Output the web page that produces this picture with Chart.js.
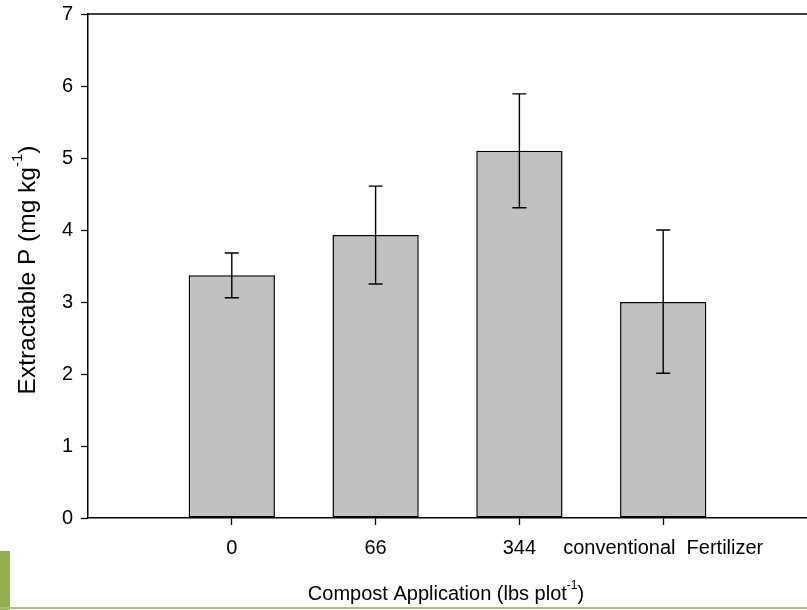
<!DOCTYPE html>
<html>
<head>
<meta charset="utf-8">
<script src="https://cdn.jsdelivr.net/npm/chart.js@4.4.1/dist/chart.umd.min.js"></script>
<style>
  html, body { margin: 0; padding: 0; background: #fff; }
  #wrap { position: relative; width: 807px; height: 610px; overflow: hidden; }
  #deco { position: absolute; left: 0; top: 551px; width: 10px; height: 59px; background: #92b050; }
  #decoLine { position: absolute; left: 0; top: 607px; width: 807px; height: 2px; background: #a9c27a; }
</style>
</head>
<body>
<div id="wrap">
  <canvas id="chart" width="807" height="610"></canvas>
  <div id="deco"></div>
  <div id="decoLine"></div>
</div>
<script>
// Kategorien (leere Ränder links/rechts wie im Original)
const categories = ['', '0', '66', '344', 'conventional  Fertilizer', ''];
const means = [null, 3.37, 3.93, 5.10, 3.00, null];
const errLow = [null, 3.06, 3.25, 4.31, 2.01, null];
const errHigh = [null, 3.68, 4.61, 5.89, 4.00, null];
const yTicks = [0, 1, 2, 3, 4, 5, 6, 7];

const FONT = 'Liberation Sans, Arial, sans-serif';

/* Fehlerbalken + obere Rahmenlinie + Achsentitel mit Hochstellung */
const extrasPlugin = {
    id: 'extras',
    afterDatasetsDraw(chart) {
        const { ctx, chartArea, scales } = chart;
        const x = scales.x, y = scales.y;
        ctx.save();
        ctx.strokeStyle = '#000';
        ctx.lineWidth = 1.4;
        means.forEach((m, i) => {
            if (m === null) return;
            const px = x.getPixelForValue(i);
            const top = y.getPixelForValue(errHigh[i]);
            const bot = y.getPixelForValue(errLow[i]);
            ctx.beginPath();
            ctx.moveTo(px, top); ctx.lineTo(px, bot);
            ctx.moveTo(px - 7, top); ctx.lineTo(px + 7, top);
            ctx.moveTo(px - 7, bot); ctx.lineTo(px + 7, bot);
            ctx.stroke();
        });
        // obere Rahmenlinie
        ctx.lineWidth = 1.5;
        ctx.beginPath();
        ctx.moveTo(chartArea.left, chartArea.top);
        ctx.lineTo(chartArea.right, chartArea.top);
        ctx.stroke();
        ctx.restore();
    },
    afterDraw(chart) {
        const { ctx } = chart;
        const drawSup = (parts, cx, cy, size) => {
            // parts: [[text, isSup], ...]
            const big = size + 'px ' + FONT, small = Math.round(size * 0.62) + 'px ' + FONT;
            let total = 0;
            parts.forEach(([t, sup]) => { ctx.font = sup ? small : big; total += ctx.measureText(t).width; });
            let pos = cx - total / 2;
            parts.forEach(([t, sup]) => {
                ctx.font = sup ? small : big;
                ctx.fillText(t, pos, sup ? cy - size * 0.42 : cy);
                pos += ctx.measureText(t).width;
            });
        };
        ctx.save();
        ctx.fillStyle = '#000';
        ctx.textBaseline = 'middle';
        ctx.textAlign = 'left';
        drawSup([['Compost Application (lbs plot', false], ['-1', true], [')', false]], 446, 594, 20);
        ctx.translate(28, 270);
        ctx.rotate(-Math.PI / 2);
        drawSup([['Extractable P (mg kg', false], ['-1', true], [')', false]], 0, 0, 24.5);
        ctx.restore();
    }
};

new Chart(document.getElementById('chart').getContext('2d'), {
    type: 'bar',
    data: {
        labels: categories,
        datasets: [{
            data: means,
            backgroundColor: '#c0c0c0',
            borderColor: '#000',
            borderWidth: 1.5,
            borderSkipped: false,
            barPercentage: 0.6,
            categoryPercentage: 1.0
        }]
    },
    options: {
        responsive: false,
        animation: false,
        devicePixelRatio: 1,
        layout: { padding: { left: 0, top: 14, right: 0, bottom: 0 } },
        plugins: { legend: { display: false }, tooltip: { enabled: false } },
        scales: {
            x: {
                type: 'category',
                offset: false,
                afterFit: (s) => { s.height = 92; s.paddingLeft = 0; s.paddingRight = 0; },
                border: { color: '#000', width: 1.5 },
                grid: {
                    offset: false,
                    drawOnChartArea: false,
                    tickLength: 7,
                    tickWidth: 1.3,
                    tickColor: (c) => (categories[c.index] ? '#000' : 'rgba(0,0,0,0)')
                },
                ticks: { color: '#000', font: { family: FONT, size: 20 }, padding: 11, maxRotation: 0, autoSkip: false }
            },
            y: {
                min: 0,
                max: 7,
                afterFit: (s) => { s.width = 88; s.paddingTop = 0; s.paddingBottom = 0; },
                afterBuildTicks: (s) => { s.ticks = yTicks.map((v) => ({ value: v })); },
                border: { color: '#000', width: 1.5 },
                grid: { drawOnChartArea: false, tickLength: 7, tickWidth: 1.3, color: '#000' },
                ticks: { color: '#000', font: { family: FONT, size: 20 }, padding: 8 }
            }
        }
    },
    plugins: [extrasPlugin]
});
</script>
</body>
</html>
